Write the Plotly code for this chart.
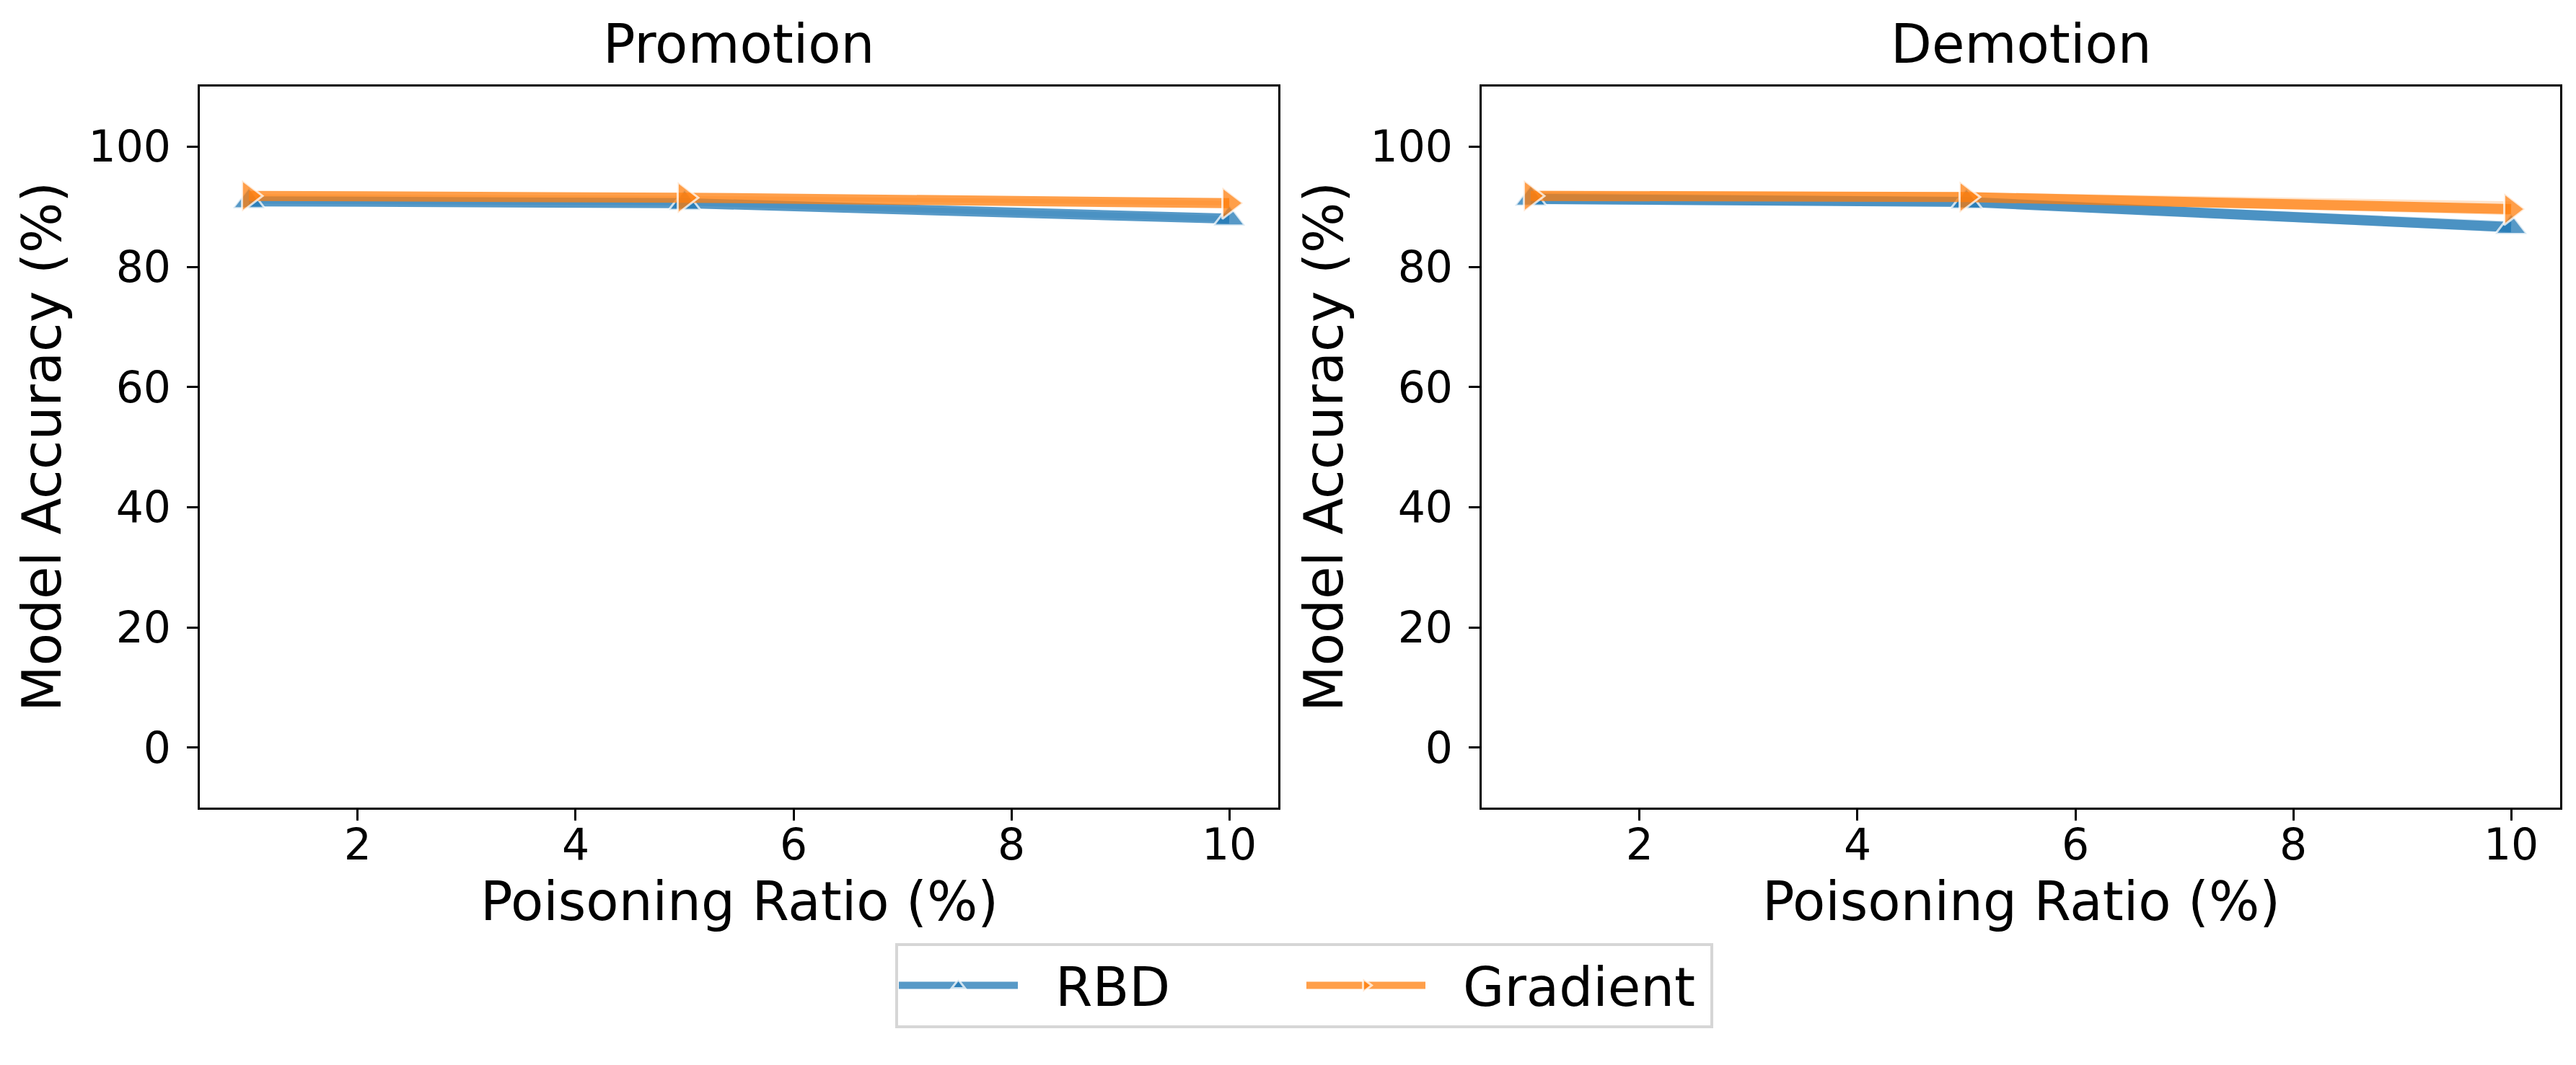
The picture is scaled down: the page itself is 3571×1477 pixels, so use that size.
import plotly.graph_objects as go

# ---------------- data ----------------
ratios = [1, 5, 10]
x_ticks = [2, 4, 6, 8, 10]
y_ticks = [0, 20, 40, 60, 80, 100]
panels = ["Promotion", "Demotion"]
methods = ["RBD", "Gradient"]

promo_rbd = [90.9, 90.6, 88.0]
promo_grad = [91.8, 91.5, 90.6]
demo_rbd = [91.3, 90.8, 86.6]
demo_grad = [91.8, 91.6, 89.6]

# confidence band bounds
promo_rbd_lo = [90.5, 90.2, 87.5]
promo_rbd_hi = [91.3, 91.0, 88.5]
promo_grad_lo = [91.4, 91.2, 90.2]
promo_grad_hi = [92.1, 91.8, 91.0]
demo_rbd_lo = [90.4, 90.1, 85.7]
demo_rbd_hi = [92.4, 91.5, 87.6]
demo_grad_lo = [91.0, 90.9, 88.6]
demo_grad_hi = [92.7, 92.4, 90.9]

# ---------------- style ----------------
W, H = 3571, 1477
FONT = "DejaVu Sans"
BLUE = (31, 119, 180)
ORANGE = (255, 127, 14)
NB = "\u00a0"


def rgba(c, a):
    return f"rgba({c[0]},{c[1]},{c[2]},{a})"


x_dom = [[269 / W, 1764 / W], [2046 / W, 3541 / W]]
y_dom = [1 - 1112 / H, 1 - 112 / H]

fig = go.Figure()

series = [
    (0, methods[0], promo_rbd, promo_rbd_lo, promo_rbd_hi, BLUE, "triangle-up"),
    (0, methods[1], promo_grad, promo_grad_lo, promo_grad_hi, ORANGE, "triangle-right"),
    (1, methods[0], demo_rbd, demo_rbd_lo, demo_rbd_hi, BLUE, "triangle-up"),
    (1, methods[1], demo_grad, demo_grad_lo, demo_grad_hi, ORANGE, "triangle-right"),
]

for p, name, vals, lo, hi, col, sym in series:
    xa = "x" if p == 0 else "x2"
    ya = "y" if p == 0 else "y2"
    fig.add_trace(go.Scatter(
        x=ratios + ratios[::-1], y=hi + lo[::-1],
        fill="toself", fillcolor=rgba(col, 0.22),
        line=dict(width=0, color=rgba(col, 0)),
        mode="lines", hoverinfo="skip", showlegend=False,
        xaxis=xa, yaxis=ya,
    ))

for p, name, vals, lo, hi, col, sym in series:
    xa = "x" if p == 0 else "x2"
    ya = "y" if p == 0 else "y2"
    fig.add_trace(go.Scatter(
        x=ratios, y=vals, name=NB * 2 + name, mode="lines+markers",
        line=dict(color=rgba(col, 0.75), width=14),
        marker=dict(symbol=sym, size=38, color=rgba(col, 0.75),
                    line=dict(color="rgba(255,255,255,0.75)", width=3)),
        showlegend=(p == 0), legendgroup=name,
        xaxis=xa, yaxis=ya,
    ))

axis_common = dict(
    showgrid=False, zeroline=False, showline=True, linecolor="black",
    linewidth=3, mirror=True, ticks="outside", ticklen=15, tickwidth=3,
    tickcolor="black", tickfont=dict(family=FONT, size=60, color="black"),
)

for i in range(2):
    sfx = "" if i == 0 else str(i + 1)
    fig.update_layout(**{
        f"xaxis{sfx}": dict(axis_common, domain=x_dom[i], range=[0.55, 10.45],
                            tickvals=x_ticks, anchor=f"y{sfx}",
                            ticklabelstandoff=-18),
        f"yaxis{sfx}": dict(axis_common, domain=y_dom, range=[-10, 110],
                            tickvals=y_ticks, anchor=f"x{sfx}",
                            ticklabelstandoff=10),
    })

annotations = []
for i, title in enumerate(panels):
    cx = (x_dom[i][0] + x_dom[i][1]) / 2
    annotations.append(dict(text=title, x=cx, y=1 - 53 / H, xref="paper", yref="paper",
                            xanchor="center", yanchor="middle", showarrow=False,
                            font=dict(family=FONT, size=74, color="black")))
    annotations.append(dict(text="Poisoning Ratio (%)", x=cx, y=1 - 1242 / H,
                            xref="paper", yref="paper", xanchor="center",
                            yanchor="middle", showarrow=False,
                            font=dict(family=FONT, size=74, color="black")))
    lx = (50 + (x_dom[i][0] * W - 269)) / W
    annotations.append(dict(text="Model Accuracy (%)", x=lx, y=sum(y_dom) / 2,
                            xref="paper", yref="paper", xanchor="center",
                            yanchor="middle", textangle=-90, showarrow=False,
                            font=dict(family=FONT, size=74, color="black")))

fig.update_layout(
    width=W, height=H,
    margin=dict(l=0, r=0, t=0, b=0),
    paper_bgcolor="white", plot_bgcolor="white",
    font=dict(family=FONT, color="black"),
    annotations=annotations,
    showlegend=True,
    legend=dict(
        orientation="h", x=1800 / W, y=1 - 1300 / H, xanchor="center", yanchor="top",
        font=dict(family=FONT, size=74, color="black"),
        bordercolor="#d6d6d6", borderwidth=4, bgcolor="white",
        itemwidth=165, itemsizing="trace",
        entrywidth=385, entrywidthmode="pixels",
    ),
)

fig.write_html("out.html")
